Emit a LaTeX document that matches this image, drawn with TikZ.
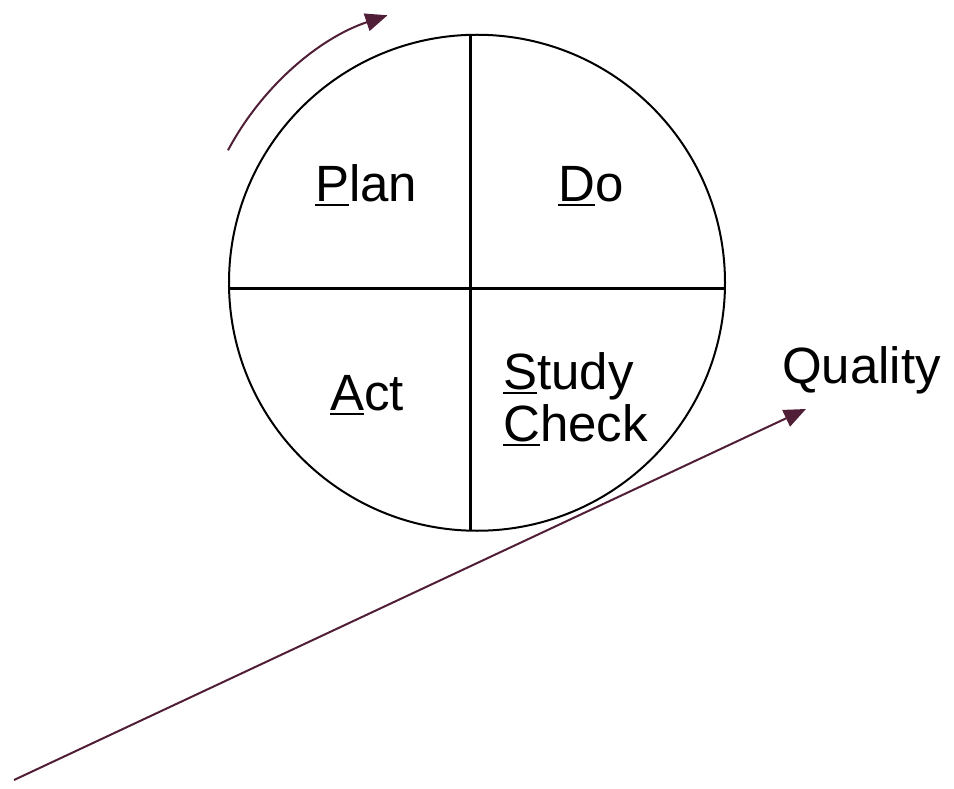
\documentclass[tikz,border=0pt]{standalone}
\usepackage{fontspec}
\setmainfont{Liberation Sans}
\usetikzlibrary{arrows.meta}
\definecolor{arrowcol}{RGB}{80,30,55}
\newcommand\ulfirst[1]{\setbox0\hbox{#1}\rlap{\rule[-5pt]{\wd0}{2pt}}#1}
\tikzset{
  lbl/.style={anchor=base west, inner sep=0pt, font=\fontsize{51}{51}\selectfont},
  ring/.style={draw=black, line width=2pt},
  divider/.style={draw=black, line width=3pt},
  flow/.style={draw=arrowcol, line width=2pt, -{Triangle[length=22pt,width=18pt]}}
}
\begin{document}
\begin{tikzpicture}[x=1pt,y=-1pt]
\useasboundingbox (0,0) rectangle (954,789);
% circle
\coordinate (c) at (477,282.75);
\draw[ring] (c) circle[radius=248pt];
% dividers
\coordinate (vt) at (470,34.9);
\coordinate (vb) at (470,530.6);
\coordinate (hl) at (229.1,288);
\coordinate (hr) at (724.9,288);
\draw[divider] (vt) -- (vb);
\draw[divider] (hl) -- (hr);
% labels
\node[lbl] (plan) at (315,201) {\ulfirst{P}lan};
\node[lbl] (do) at (558,201) {\ulfirst{D}o};
\node[lbl] (act) at (330,410) {\ulfirst{A}ct};
\node[lbl] (study) at (503,389) {\ulfirst{S}tudy};
\node[lbl] (check) at (503,441) {\ulfirst{C}heck};
\node[lbl] (quality) at (782,383) {Quality};
% curved arrow
\coordinate (arcstart) at (228,150.3);
\draw[flow] (arcstart) arc[start angle=152, end angle=108.5, radius=282pt] coordinate (arcend);
% straight arrow
\coordinate (qs) at (14,780);
\coordinate (qe) at (806,409);
\draw[flow] (qs) -- (qe);
\end{tikzpicture}
\end{document}
